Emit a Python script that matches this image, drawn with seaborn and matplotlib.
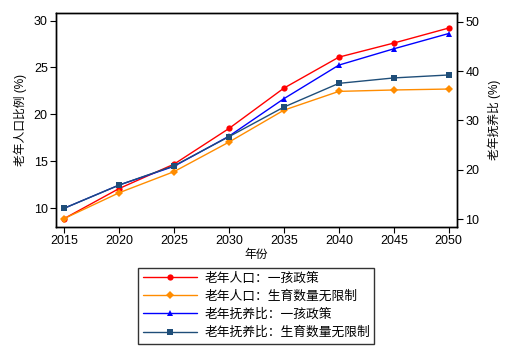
import matplotlib
matplotlib.use("Agg")
import matplotlib.pyplot as plt
import seaborn as sns
import pandas as pd
from matplotlib.lines import Line2D

years = [2015, 2020, 2025, 2030, 2035, 2040, 2045, 2050]
pop_one_child = [8.9, 12.1, 14.7, 18.5, 22.8, 26.1, 27.6, 29.2]
pop_no_limit = [8.9, 11.65, 13.9, 17.05, 20.45, 22.45, 22.6, 22.7]
dep_one_child = [12.2, 16.9, 20.7, 26.8, 34.4, 41.2, 44.5, 47.6]
dep_no_limit = [12.2, 16.9, 20.8, 26.7, 32.7, 37.5, 38.6, 39.2]

labels = ["老年人口：一孩政策", "老年人口：生育数量无限制",
          "老年抚养比：一孩政策", "老年抚养比：生育数量无限制"]
colors = ["#FF0000", "#FF8C00", "#0000FF", "#1F4E79"]
markers = ["o", "D", "^", "s"]

sns.set_style("ticks")
plt.rcParams['font.family'] = ['Liberation Sans', 'Noto Sans CJK SC', 'DejaVu Sans']
plt.rcParams['axes.unicode_minus'] = False
for k in ['text.color', 'axes.labelcolor', 'xtick.color', 'ytick.color', 'axes.edgecolor']:
    plt.rcParams[k] = 'black'

fig = plt.figure(figsize=(5.14, 3.62), dpi=100)
ax1 = fig.add_axes([0.109, 0.373, 0.780, 0.591])
ax2 = ax1.twinx()

df1 = pd.DataFrame({"year": years * 2,
                    "value": pop_one_child + pop_no_limit,
                    "series": [labels[0]] * 8 + [labels[1]] * 8})
df2 = pd.DataFrame({"year": years * 2,
                    "value": dep_one_child + dep_no_limit,
                    "series": [labels[2]] * 8 + [labels[3]] * 8})

sns.lineplot(data=df1, x="year", y="value", hue="series", style="series",
             palette=colors[:2], markers=markers[:2], dashes=False,
             markersize=4.5, linewidth=1.0, markeredgewidth=0, ax=ax1, legend=False)
sns.lineplot(data=df2, x="year", y="value", hue="series", style="series",
             palette=colors[2:], markers=markers[2:], dashes=False,
             markersize=4.5, linewidth=1.0, markeredgewidth=0, ax=ax2, legend=False)

ax1.set_xlim(2014.25, 2050.75)
ax1.set_ylim(8.0, 30.8)
ax2.set_ylim(8.4, 51.75)
ax1.set_xticks(years)
ax1.set_yticks([10, 15, 20, 25, 30])
ax2.set_yticks([10, 20, 30, 40, 50])

for ax in (ax1, ax2):
    ax.tick_params(axis='both', labelsize=9, length=4, width=0.8, color='black',
                   labelcolor='black', pad=2)
    for sp in ax.spines.values():
        sp.set_visible(True)
        sp.set_color('black')
        sp.set_linewidth(1.0)

ax1.set_xlabel("年份", fontsize=8.5, labelpad=1, color='black')
ax1.set_ylabel("老年人口比例 (%)", fontsize=8.5, labelpad=5, color='black')
ax2.set_ylabel("老年抚养比 (%)", fontsize=8.5, labelpad=6, color='black')

handles = [Line2D([0], [0], color=c, marker=m, markersize=4.5, linewidth=1.0,
                  markeredgewidth=0) for c, m in zip(colors, markers)]
leg = fig.legend(handles, labels, loc="upper center", bbox_to_anchor=(0.499, 0.26),
                 fontsize=9.2, frameon=True, fancybox=False, edgecolor='black',
                 handlelength=4.2, labelspacing=0.45, borderpad=0.35, handletextpad=0.6,
                 borderaxespad=0)
leg.get_frame().set_linewidth(1.0)
for t in leg.get_texts():
    t.set_color('black')

fig.savefig("out.png", dpi=100)
